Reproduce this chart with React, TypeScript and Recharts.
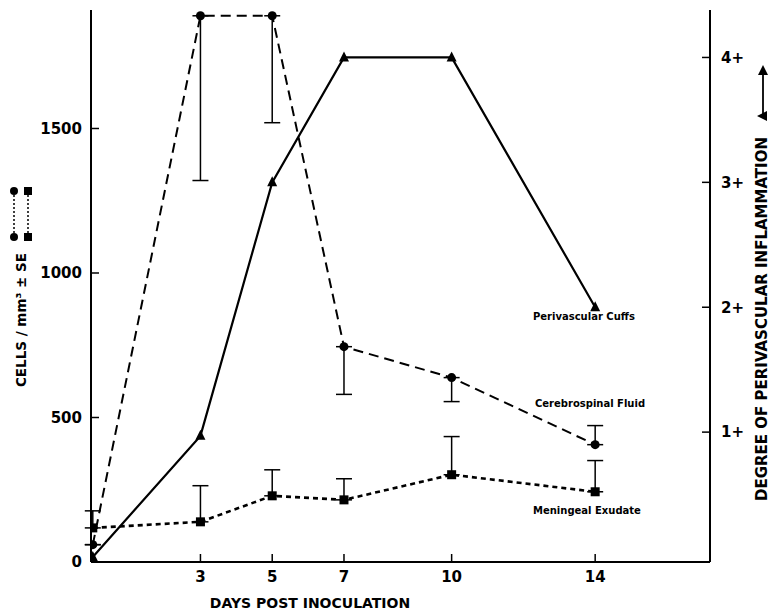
import React from 'react'
import { LineChart, Line, XAxis, YAxis, ErrorBar } from 'recharts'

// days post inoculation
const days = [0, 3, 5, 7, 10, 14]
// cerebrospinal fluid cells / mm3 with one-sided SE
const csf = [60, 1890, 1890, 745, 638, 406]
const csfErrDown = [0, 570, 370, 165, 83, 0]
const csfErrUp = [0, 0, 0, 0, 0, 66]
// meningeal exudate cells / mm3 with SE (upward)
const exudate = [118, 139, 229, 215, 302, 243]
const exudateErr = [59, 125, 90, 73, 132, 108]
// perivascular cuffs, degree of inflammation (right axis)
const cuffs = [0, 0.97, 3, 4, 4, 2]

const cellTicks = [0, 500, 1000, 1500]
const degreeTicks = [1, 2, 3, 4]
const dayTicks = [3, 5, 7, 10, 14]

const data = days.map((d, i) => ({
  day: d,
  csf: csf[i],
  csfErr: [csfErrDown[i], csfErrUp[i]],
  exudate: exudate[i],
  exudateErr: [0, exudateErr[i]],
  cuffs: cuffs[i],
}))

const FONT = '"DejaVu Sans", sans-serif'
const tickStyle = { fill: '#000', fontSize: 15, fontWeight: 700, fontFamily: FONT }

const CircleDot = (p: any) =>
  p.cx == null ? <g key={p.key} /> : <circle key={p.key} cx={p.cx} cy={p.cy} r={4.5} fill="#000" />
const SquareDot = (p: any) =>
  p.cx == null ? <g key={p.key} /> : <rect key={p.key} x={p.cx - 4.5} y={p.cy - 4.5} width={9} height={9} fill="#000" />
const TriDot = (p: any) =>
  p.cx == null ? (
    <g key={p.key} />
  ) : (
    <polygon key={p.key} points={`${p.cx},${p.cy - 6} ${p.cx - 5},${p.cy + 4} ${p.cx + 5},${p.cy + 4}`} fill="#000" />
  )

export default function App() {
  return (
    <div style={{ position: 'relative', width: 770, height: 614, background: '#fff' }}>
      <style>{'body{margin:0}'}</style>
      <LineChart width={770} height={614} data={data} margin={{ top: 10, right: 0, bottom: 0, left: 0 }}>
        <XAxis
          dataKey="day"
          type="number"
          domain={[-0.05, 17.2]}
          ticks={dayTicks}
          allowDataOverflow
          height={52}
          tickSize={-8}
          tickMargin={17}
          tick={tickStyle}
          axisLine={{ stroke: '#000', strokeWidth: 2 }}
          tickLine={{ stroke: '#000', strokeWidth: 1.5 }}
        />
        <YAxis
          yAxisId="cells"
          domain={[0, 1910]}
          ticks={cellTicks}
          allowDataOverflow
          width={91}
          tickSize={-8}
          tickMargin={17}
          tick={tickStyle}
          axisLine={{ stroke: '#000', strokeWidth: 2 }}
          tickLine={{ stroke: '#000', strokeWidth: 1.5 }}
        />
        <YAxis
          yAxisId="degree"
          orientation="right"
          domain={[-0.04, 4.38]}
          ticks={degreeTicks}
          allowDataOverflow
          width={60}
          tickSize={-8}
          tickMargin={19}
          tick={{ ...tickStyle, textAnchor: 'start' }}
          tickFormatter={(v: number) => `${v}+`}
          axisLine={{ stroke: '#000', strokeWidth: 2 }}
          tickLine={{ stroke: '#000', strokeWidth: 1.5 }}
        />
        <Line
          yAxisId="degree"
          dataKey="cuffs"
          stroke="#000"
          strokeWidth={2.2}
          dot={TriDot}
          activeDot={false}
          isAnimationActive={false}
        />
        <Line
          yAxisId="cells"
          dataKey="csf"
          stroke="#000"
          strokeWidth={2}
          strokeDasharray="10 6"
          dot={CircleDot}
          activeDot={false}
          isAnimationActive={false}
        >
          <ErrorBar dataKey="csfErr" direction="y" width={8} stroke="#000" strokeWidth={1.5} />
        </Line>
        <Line
          yAxisId="cells"
          dataKey="exudate"
          stroke="#000"
          strokeWidth={2.6}
          strokeDasharray="5 4"
          dot={SquareDot}
          activeDot={false}
          isAnimationActive={false}
        >
          <ErrorBar dataKey="exudateErr" direction="y" width={8} stroke="#000" strokeWidth={1.5} />
        </Line>
      </LineChart>
      <svg
        width={770}
        height={614}
        style={{ position: 'absolute', left: 0, top: 0, pointerEvents: 'none' }}
        fontFamily={FONT}
        fontWeight={700}
      >
        <text x={310} y={603} fontSize={14} textAnchor="middle" dominantBaseline="central">
          DAYS POST INOCULATION
        </text>
        <text
          x={21}
          y={320}
          fontSize={13.5}
          textAnchor="middle"
          dominantBaseline="central"
          transform="rotate(-90 21 320)"
        >
          CELLS / mm³ ± SE
        </text>
        <g stroke="#000" strokeWidth={1.5} strokeDasharray="2 2">
          <line x1={14} y1={191} x2={14} y2={237} />
          <line x1={28} y1={191} x2={28} y2={237} />
        </g>
        <circle cx={14} cy={191} r={4} fill="#000" />
        <circle cx={14} cy={237} r={4} fill="#000" />
        <rect x={24} y={187} width={8} height={8} fill="#000" />
        <rect x={24} y={233} width={8} height={8} fill="#000" />
        <text
          x={762}
          y={319}
          fontSize={15}
          textAnchor="middle"
          dominantBaseline="central"
          transform="rotate(-90 762 319)"
        >
          DEGREE OF PERIVASCULAR INFLAMMATION
        </text>
        <line x1={763} y1={72} x2={763} y2={116} stroke="#000" strokeWidth={1.8} />
        <polygon points="763,65 758,75 768,75" fill="#000" />
        <polygon points="757,116 767,111 767,121" fill="#000" />
        <g fontSize={10}>
          <text x={533} y={316} dominantBaseline="central">Perivascular Cuffs</text>
          <text x={535} y={403} dominantBaseline="central">Cerebrospinal Fluid</text>
          <text x={533} y={510} dominantBaseline="central">Meningeal Exudate</text>
        </g>
      </svg>
    </div>
  )
}
